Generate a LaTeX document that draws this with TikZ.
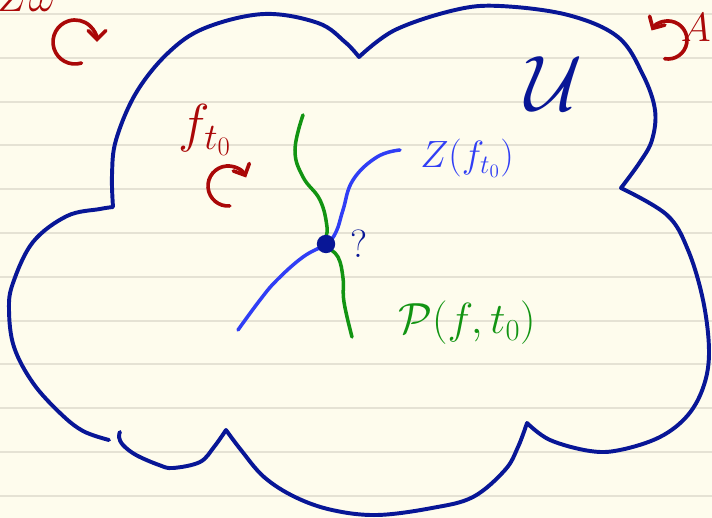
\RequirePackage{fix-cm}
\documentclass[tikz,border=0pt]{standalone}
\usepackage{amsmath,amssymb}
\usepackage{tikz}
\usetikzlibrary{arrows.meta}
\definecolor{PaperCream}{RGB}{254,252,237}
\definecolor{RuleGrey}{RGB}{229,226,212}
\definecolor{InkNavy}{RGB}{8,22,150}
\definecolor{InkRed}{RGB}{170,8,8}
\definecolor{InkBlue}{RGB}{48,62,245}
\definecolor{InkGreen}{RGB}{18,148,18}
\tikzset{
    ruling/.style={RuleGrey,line width=1.3pt},
    cloudline/.style={InkNavy,line width=2.8pt,line cap=round,line join=round},
    zeroset/.style={InkBlue,line width=2.5pt,line cap=round},
    pset/.style={InkGreen,line width=2.5pt,line cap=round},
    turn/.style={InkRed,line width=2.6pt,line cap=round,-{Straight Barb[length=2.2mm,width=4.4mm,line cap=round]}},
    meetdot/.style={circle,fill=InkNavy,minimum size=4.6mm,inner sep=0pt},
    redtxt/.style={InkRed,inner sep=0pt},
    bluetxt/.style={InkBlue,inner sep=0pt},
    greentxt/.style={InkGreen,inner sep=0pt},
    navytxt/.style={InkNavy,inner sep=0pt}
}

\begin{document}
\begin{tikzpicture}[x=0.025cm,y=-0.025cm]
		\useasboundingbox (0,0) rectangle (712,518);
		% paper and ruling
		\fill[PaperCream] (0,0) rectangle (712,518);
		\foreach \k in {0,...,11}
			\draw[ruling] (0,14+43.8*\k) -- (712,14+43.8*\k);
		% the open set U
		\draw[cloudline] plot[smooth,tension=0.6] coordinates {(109,440) (83,431) (60,413) (33,383) (14,347) (9,310) (13,283) (33,242) (67,216) (100,209) (113,207)}
			-- plot[smooth,tension=0.6] coordinates {(113,207) (112,175) (116,140) (136,93) (168,53) (205,28) (264,14) (318,23) (345,42) (359,57)}
			-- plot[smooth,tension=0.6] coordinates {(359,57) (395,30) (455,10) (500,6) (568,15) (618,37) (643,75) (655,110) (652,140) (640,162) (621,188)}
			-- plot[smooth,tension=0.6] coordinates {(621,188) (667,215) (688,250) (703,300) (709,350) (704,385) (688,415) (660,437) (620,450) (590,451) (550,440) (527,423)}
			-- plot[smooth,tension=0.6] coordinates {(527,423) (518,447) (505,470) (473,497) (432,508) (377,515) (332,510) (295,497) (264,477) (241,450) (226,430)}
			-- plot[smooth,tension=0.6] coordinates {(226,430) (214,447) (200,462) (173,468) (159,465) (136,455) (123,445) (119,437) (120,432)};
		\node[navytxt] (setU) at (554,84) {\fontsize{56}{60}\selectfont$\mathcal{U}$};
		% the two curves and where they meet
		\coordinate (meet) at (326,244);
		\draw[pset] plot[smooth,tension=0.7] coordinates {(303,115) (295,150) (303,177) (320,200) (327,227) (meet) (338,257) (343,278) (344,302) (352,337)};
		\draw[zeroset] plot[smooth,tension=0.7] coordinates {(400,150) (377,157) (353,180) (343,210) (336,232) (meet) (303,257) (277,280) (260,300) (238,330)};
		\node[meetdot] (dot) at (meet) {};
		\node[navytxt] (ask) at (359,244) {\fontsize{28}{30}\selectfont ?};
		\node[bluetxt] (zlabel) at (467,158) {\fontsize{27}{30}\selectfont$Z(f_{t_0})$};
		\node[greentxt] (plabel) at (467,323) {\fontsize{31}{34}\selectfont$\mathcal{P}(f,t_0)$};
		% actions
		\node[redtxt,anchor=base west] (zomega) at (-3,12) {\fontsize{30}{33}\selectfont$Z\omega$};
		\draw[turn] (75,42) ++(73:22) arc[start angle=73,end angle=360,radius=22];
		\node[redtxt,anchor=east] (groupA) at (711,28) {\fontsize{29}{32}\selectfont$A$};
		\draw[turn] (668,40) ++(100:19) arc[start angle=100,end angle=-150,radius=19];
		\node[redtxt] (ft) at (205,130) {\fontsize{38}{42}\selectfont$f_{t_0}$};
		\draw[turn] (228,186) ++(85:20) arc[start angle=85,end angle=335,radius=20];
\end{tikzpicture}
\end{document}
